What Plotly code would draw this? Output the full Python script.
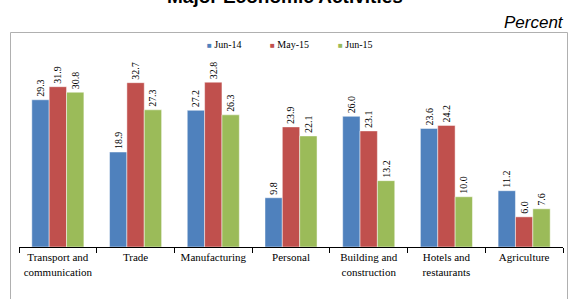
import plotly.graph_objects as go

categories = ["Transport and<br>communication", "Trade", "Manufacturing", "Personal",
              "Building and<br>construction", "Hotels and<br>restaurants", "Agriculture"]
jun14 = [29.3, 18.9, 27.2, 9.8, 26.0, 23.6, 11.2]
may15 = [31.9, 32.7, 32.8, 23.9, 23.1, 24.2, 6.0]
jun15 = [30.8, 27.3, 26.3, 22.1, 13.2, 10.0, 7.6]
series = [("Jun-14", jun14, "#4F81BD"), ("May-15", may15, "#C0504D"), ("Jun-15", jun15, "#9BBB59")]
legend_x = [205, 268, 336]

W, H = 571, 299
L, R, T, B = 19, 8, 46, 52
pw, ph = W - L - R, H - T - B
SERIF = "Liberation Serif, Times New Roman, serif"

def px(x):
    return (x - L) / pw

def py(y):
    return 1 + (T - y) / ph

fig = go.Figure()
for name, vals, col in series:
    fig.add_trace(go.Bar(
        x=categories, y=vals, name=name, showlegend=False,
        marker=dict(color=col, line=dict(color="rgba(255,255,255,0.8)", width=0.6)),
        text=[f"{v:.1f}" for v in vals], textposition="outside", textangle=-90,
        textfont=dict(family=SERIF, size=10, color="black"),
        cliponaxis=False,
    ))

fig.update_layout(
    width=W, height=H,
    margin=dict(l=L, r=R, t=T, b=B, autoexpand=False),
    paper_bgcolor="white", plot_bgcolor="white",
    barmode="group", bargap=0.33, bargroupgap=0,
    font=dict(family=SERIF, size=10, color="black"),
    showlegend=False,
    xaxis=dict(showline=True, linecolor="black", linewidth=1, ticks="outside",
               tickson="boundaries", ticklen=5, tickcolor="black", tickangle=0,
               automargin=False,
               tickfont=dict(family=SERIF, size=11, color="black"),
               showgrid=False, fixedrange=True),
    yaxis=dict(range=[0, 40], visible=False, showgrid=False, fixedrange=True),
)

fig.add_shape(type="rect", xref="paper", yref="paper",
              x0=px(10.5), x1=px(567.5), y0=py(320), y1=py(32.5),
              line=dict(color="#B0B0B0", width=1), fillcolor="rgba(0,0,0,0)", layer="below")

for (name, vals, col), lx in zip(series, legend_x):
    fig.add_annotation(text=f'<span style="color:{col};font-size:8px">■</span> {name}', xref="paper", yref="paper",
                       x=px(lx), y=py(44), xanchor="left", yanchor="middle", showarrow=False,
                       font=dict(family=SERIF, size=10, color="black"))

fig.add_annotation(text="<i>Percent</i>", xref="paper", yref="paper", x=px(566), y=py(22),
                   xanchor="right", yanchor="middle", showarrow=False,
                   font=dict(family="Liberation Sans, Arial, sans-serif", size=17, color="black"))
fig.add_annotation(text="<b>Major Economic Activities</b>", xref="paper", yref="paper",
                   x=px(285), y=py(-4), xanchor="center", yanchor="middle", showarrow=False,
                   font=dict(family="Liberation Sans, Arial, sans-serif", size=19, color="black"))

fig.write_html("out.html", config={"displayModeBar": False},
               post_script="document.body.style.margin='0';document.body.style.overflow='hidden';")
